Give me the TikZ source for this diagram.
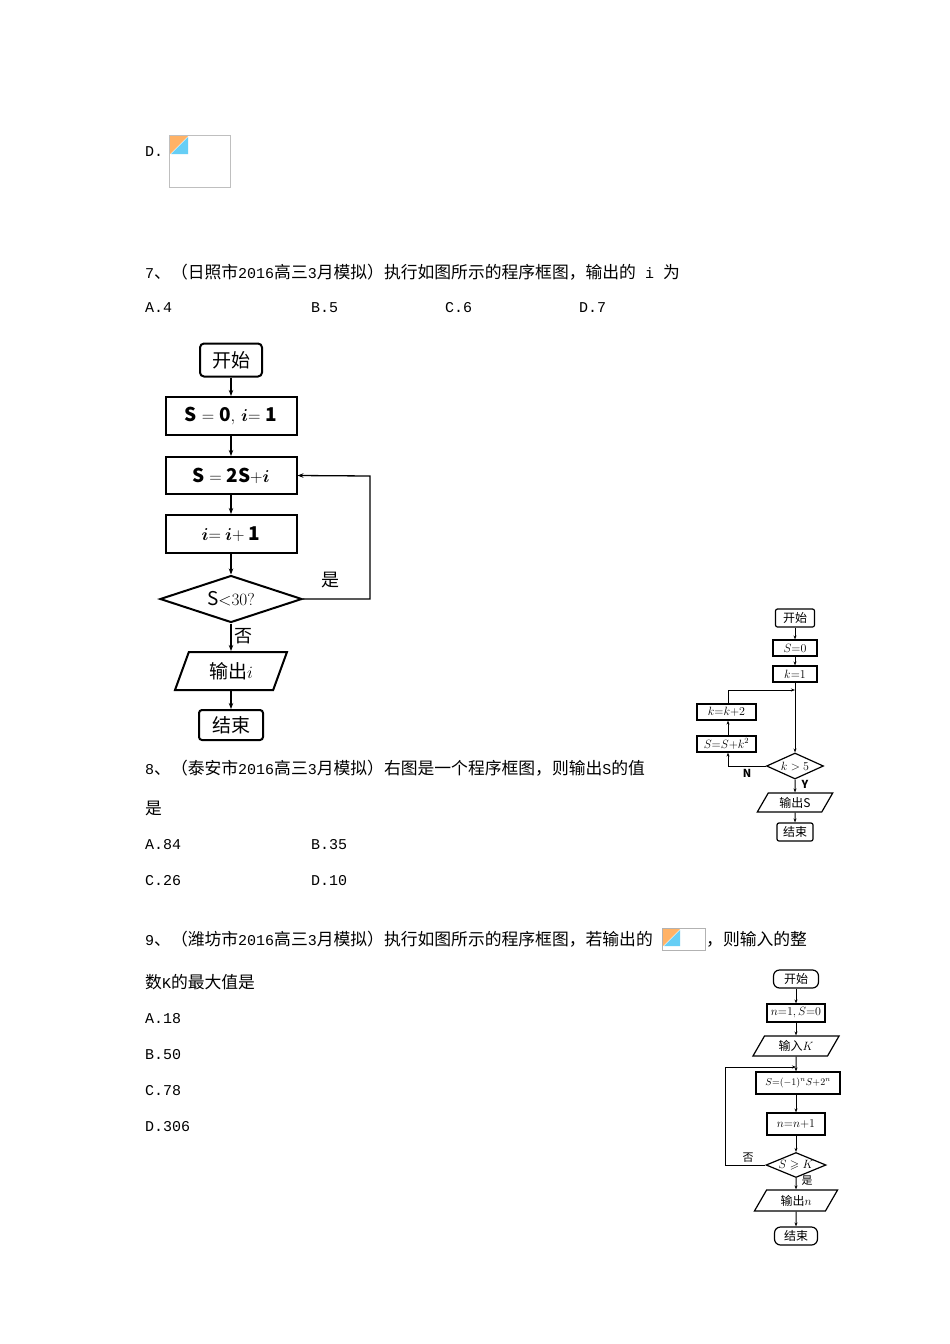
\documentclass[tikz,border=0pt]{standalone}
\usepackage{amsmath,amssymb}
\usepackage{fontspec}
\setmainfont{Noto Sans CJK SC}
\newfontfamily\mono{Liberation Mono}
\usetikzlibrary{shapes.geometric,arrows.meta}
\tikzset{
 txt/.style={anchor=west,inner sep=0pt,font=\fontsize{16.8}{18}\selectfont},
 fbig/.style={draw,line width=2pt,font=\fontsize{19}{22}\selectfont},
 fsm/.style={draw,line width=1.2pt,inner sep=0pt,font=\fontsize{12}{14}\selectfont},
 abig/.style={line width=1.3pt,-{Stealth[length=6pt]}},
 asm/.style={line width=1pt,-{Stealth[length=4pt]}},
}
\newcommand{\mn}[1]{{\mono\fontsize{15}{18}\selectfont #1}}
\begin{document}
\begin{tikzpicture}[x=1pt,y=-1pt]
\useasboundingbox[fill=white] (0,0) rectangle (950,1344);
% texts
\node[txt] (tD) at (145,152) {\mn{D.}};
\draw[gray!50] (169,135) rectangle (230,187);
\fill[orange!60] (170,136) -- (188,136) -- (170,154) -- cycle;
\fill[cyan!60] (188,137) -- (188,154) -- (171,154) -- cycle;
\node[txt] (t7) at (145,272) {\mn{7}、（日照市\mn{2016}高三\mn{3}月模拟）执行如图所示的程序框图，输出的\mn{ i }为};
\node[txt] (a7) at (145,308) {\mn{A.4}};
\node[txt] (b7) at (311,308) {\mn{B.5}};
\node[txt] (c7) at (445,308) {\mn{C.6}};
\node[txt] (d7) at (579,308) {\mn{D.7}};
\node[txt] (t8) at (145,768) {\mn{8}、（泰安市\mn{2016}高三\mn{3}月模拟）右图是一个程序框图，则输出\mn{S}的值};
\node[txt] (t8b) at (145,808) {是};
\node[txt] (a8) at (145,845) {\mn{A.84}};
\node[txt] (b8) at (311,845) {\mn{B.35}};
\node[txt] (c8) at (145,881) {\mn{C.26}};
\node[txt] (d8) at (311,881) {\mn{D.10}};
\node[txt] (t9) at (145,939) {\mn{9}、（潍坊市\mn{2016}高三\mn{3}月模拟）执行如图所示的程序框图，若输出的};
\draw[gray!60] (662,928) rectangle (705,950);
\fill[orange!60] (663,929) -- (680,929) -- (663,946) -- cycle;
\fill[cyan!60] (680,930) -- (680,946) -- (664,946) -- cycle;
\node[txt] (t9c) at (706,939) {，则输入的整};
\node[txt] (t9b) at (145,982) {数\mn{K}的最大值是};
\node[txt] (a9) at (145,1019) {\mn{A.18}};
\node[txt] (b9) at (145,1055) {\mn{B.50}};
\node[txt] (c9) at (145,1091) {\mn{C.78}};
\node[txt] (d9) at (145,1127) {\mn{D.306}};
% flowchart 1
\node[fbig,rounded corners=4pt,minimum width=62pt,minimum height=33pt] (s1) at (231,360) {开始};
\node[fbig,minimum width=131pt,minimum height=38pt] (b1) at (231,416) {$\mathbf{S=0},\,\boldsymbol{i}\mathbf{=1}$};
\node[fbig,minimum width=131pt,minimum height=37pt] (b2) at (231,475.5) {$\mathbf{S=2S{+}}\boldsymbol{i}$};
\node[fbig,minimum width=131pt,minimum height=38pt] (b3) at (231,534) {$\boldsymbol{i}\mathbf{{=}\ }\boldsymbol{i}\mathbf{{+}\ 1}$};
\node[fbig,diamond,aspect=3,minimum width=142pt,minimum height=47pt,inner sep=0pt] (d1) at (231,599) {$\mathrm{S}{<}30?$};
\node[fbig,trapezium,trapezium left angle=70,trapezium right angle=110,minimum width=110pt,minimum height=38pt,inner sep=2pt] (o1) at (231,671) {输出$i$};
\node[fbig,rounded corners=3pt,minimum width=64pt,minimum height=30pt] (e1) at (231,725) {结束};
\draw[abig] (s1) -- (b1);
\draw[abig] (b1) -- (b2);
\draw[abig] (b2) -- (b3);
\draw[abig] (b3) -- (d1);
\draw[abig] (d1) -- (o1) node[pos=0.45,right,font=\fontsize{18}{20}\selectfont] {否};
\draw[abig] (o1) -- (e1);
\coordinate (c1) at (370,599);
\coordinate (c2) at (370,476);
\draw[abig] (d1.east) -- (c1) -- (c2) -- (b2.east);
\node[font=\fontsize{18}{20}\selectfont] (y1) at (330,580) {是};
% flowchart 2
\node[fsm,minimum width=39pt,minimum height=18pt,rounded corners=2pt] (s2) at (795,618) {开始};
\node[fsm,minimum width=44pt,minimum height=16pt] (b21) at (795,648) {$S{=}0$};
\node[fsm,minimum width=44pt,minimum height=16pt] (b22) at (795,674) {$k{=}1$};
\node[fsm,minimum width=59pt,minimum height=16pt] (b23) at (726.5,712) {$k{=}k{+}2$};
\node[fsm,minimum width=59pt,minimum height=16pt] (b24) at (726.5,744) {$S{=}S{+}k^2$};
\node[fsm,diamond,aspect=2.3,minimum width=57pt,minimum height=26pt] (d2) at (795,766) {$k>5$};
\node[fsm,trapezium,trapezium left angle=60,trapezium right angle=120,minimum width=72pt,minimum height=19pt] (o2) at (795,802.5) {输出S};
\node[fsm,minimum width=36pt,minimum height=18pt,rounded corners=2pt] (e2) at (795,832) {结束};
\draw[asm] (s2) -- (b21);
\draw[asm] (b21) -- (b22);
\draw[asm] (b22) -- (d2);
\draw[asm] (d2) -- (o2);
\draw[asm] (o2) -- (e2);
\coordinate (c21) at (728,766);
\coordinate (c22) at (728,690);
\coordinate (c23) at (795,690);
\draw[asm] (d2.west) -- (c21) -- (b24.south -| c21);
\draw[asm] (b24.north -| c21) -- (b23.south -| c21);
\draw[asm] (b23.north -| c21) -- (c22) -- (c23);
\node[font=\fontsize{11}{12}\selectfont\bfseries] (n2) at (747,773) {N};
\node[font=\fontsize{11}{12}\selectfont\bfseries] (y2) at (805,784) {Y};
% flowchart 3
\node[fsm,minimum width=45pt,minimum height=18pt,rounded corners=6pt] (s3) at (796,979) {开始};
\node[fsm,minimum width=58pt,minimum height=18pt] (b31) at (796,1013) {$n{=}1,S{=}0$};
\node[fsm,trapezium,trapezium left angle=60,trapezium right angle=120,minimum width=76pt,minimum height=20pt] (i3) at (796,1046) {输入$K$};
\node[fsm,minimum width=84pt,minimum height=22pt] (b32) at (798,1083) {\fontsize{10}{12}\selectfont$S{=}({-}1)^nS{+}2^n$};
\node[fsm,minimum width=58pt,minimum height=22pt] (b33) at (796,1124) {$n{=}n{+}1$};
\node[fsm,diamond,aspect=2.4,minimum width=60pt,minimum height=25pt] (d3) at (796,1165) {$S\geqslant K$};
\node[fsm,trapezium,trapezium left angle=60,trapezium right angle=120,minimum width=82pt,minimum height=21pt] (o3) at (796,1200.5) {输出$n$};
\node[fsm,minimum width=43pt,minimum height=18pt,rounded corners=6pt] (e3) at (796,1236) {结束};
\draw[asm] (s3) -- (b31);
\draw[asm] (b31) -- (i3);
\draw[asm] (i3) -- (b32.north -| i3);
\draw[asm] (b32.south -| b33) -- (b33);
\draw[asm] (b33) -- (d3);
\draw[asm] (d3) -- (o3);
\draw[asm] (o3) -- (e3);
\coordinate (c31) at (725,1165);
\coordinate (c32) at (725,1067);
\coordinate (c33) at (796,1067);
\draw[asm] (d3.west) -- (c31) -- (c32) -- (c33);
\node[font=\fontsize{11}{12}\selectfont] (n3) at (748,1158) {否};
\node[font=\fontsize{11}{12}\selectfont] (y3) at (807,1181) {是};
\end{tikzpicture}
\end{document}
